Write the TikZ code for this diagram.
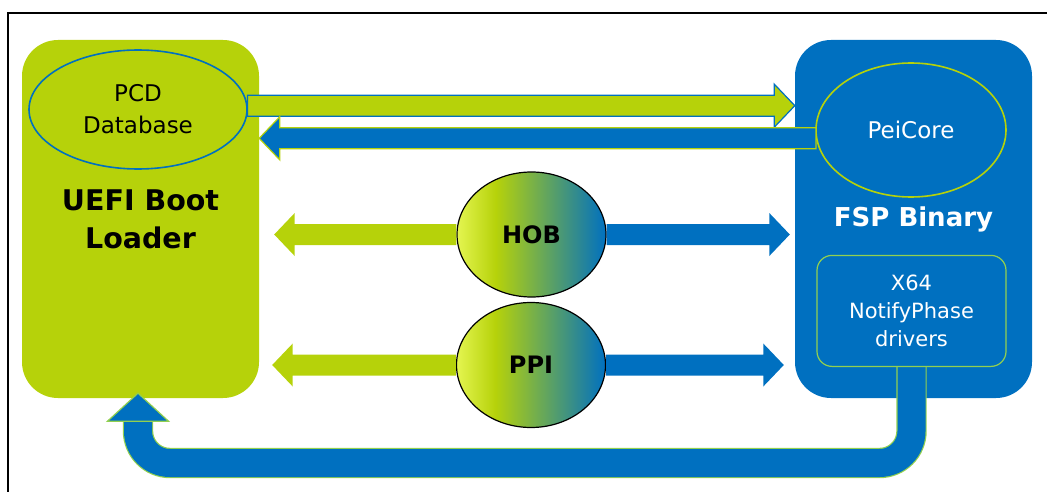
\documentclass[tikz,border=0pt]{standalone}
\usepackage{fontspec}
\setmainfont{DejaVu Sans}
\usetikzlibrary{shapes.geometric,calc}
\definecolor{uefigreen}{RGB}{182,210,10}
\definecolor{fspblue}{RGB}{0,112,192}
\definecolor{edgegreen}{RGB}{146,208,80}
\definecolor{hoblight}{RGB}{228,245,80}
\pgfdeclarehorizontalshading{hobshade}{100bp}{color(0bp)=(hoblight); color(25bp)=(hoblight); color(38bp)=(uefigreen); color(75bp)=(fspblue); color(100bp)=(fspblue)}
\tikzset{
  bigbox/.style={rectangle, rounded corners=36pt, minimum width=237pt, minimum height=358pt, inner sep=0pt, align=center, font=\fontsize{26}{38}\selectfont\bfseries},
  part/.style={ellipse, inner sep=0pt, align=center, line width=1.6pt, font=\fontsize{23}{32}\selectfont},
  info/.style={ellipse, draw=black, line width=1.2pt, shade, shading=hobshade, minimum width=149pt, minimum height=125pt, inner sep=0pt, font=\fontsize{24}{28}\selectfont\bfseries},
  outline/.style={line width=1.2pt, line join=miter},
}
% fat horizontal arrow from #2 to #3
\newcommand{\fatarrow}[3][]{%
  \path[#1] let \p1=(#2), \p2=(#3), \n1={ifthenelse(\x2>\x1,1,-1)} in
    (\x1,\y1+10.5pt) -- ({\x2-(\n1)*20.5pt},\y1+10.5pt) -- ({\x2-(\n1)*20.5pt},\y1+21.5pt)
    -- (\x2,\y1) -- ({\x2-(\n1)*20.5pt},\y1-21.5pt) -- ({\x2-(\n1)*20.5pt},\y1-10.5pt)
    -- (\x1,\y1-10.5pt) -- cycle;}
\begin{document}
\begin{tikzpicture}[x=1pt,y=-1pt]
\useasboundingbox (0,0) rectangle (1047,492);
\draw[line width=2pt] (1047,13) -- (8,13) -- (8,492);
\node[bigbox, fill=uefigreen, font=\fontsize{28.5}{38}\selectfont\bfseries] (uefi) at (140.5,219) {UEFI Boot\\Loader};
\node[bigbox, fill=fspblue, text=white] (fsp) at (913.5,219) {FSP Binary};
% return path of the X64 drivers
\coordinate (drv) at (911.5,367);
\coordinate (ubase) at ($(uefi.south)+(-2.5,23)$);
\draw[draw=edgegreen, line width=1.2pt, double=fspblue, double distance=28pt, rounded corners=32pt] (drv) -- ++(0,96) -| (ubase);
\node[rectangle, rounded corners=15pt, outline, draw=edgegreen, fill=fspblue, text=white, align=center, anchor=south, minimum width=189pt, minimum height=111pt, font=\fontsize{21}{28}\selectfont] (notify) at (drv) {X64\\NotifyPhase\\drivers};
\filldraw[outline, fill=fspblue, draw=edgegreen] ($(ubase)+(-30.5,0)$) -- ($(ubase)+(0,-28)$) -- ($(ubase)+(30.5,0)$) -- cycle;
% ellipses
\node[part, draw=fspblue, fill=uefigreen, minimum width=218pt, minimum height=119pt] (pcd) at (138,109.5) {PCD\\Database};
\node[part, draw=uefigreen, fill=fspblue, text=white, minimum width=190pt, minimum height=134pt] (peicore) at (911,130) {PeiCore};
\node[info] (hob) at (531.5,234.5) {HOB};
\node[info] (ppi) at (531,365) {PPI};
% arrows
\fatarrow[outline, fill=uefigreen, draw=fspblue]{pcd.2}{fsp.west |- pcd.2}
\fatarrow[outline, fill=fspblue, draw=uefigreen]{peicore.185}{uefi.east |- peicore.185}
\coordinate (hobL) at ($(uefi.east |- hob.west)+(15,0)$);
\coordinate (hobR) at ($(fsp.west |- hob.east)+(-5,0)$);
\coordinate (ppiL) at ($(uefi.east |- ppi.west)+(13,0)$);
\coordinate (ppiR) at ($(fsp.west |- ppi.east)+(-11,0)$);
\fatarrow[fill=uefigreen]{hob.west}{hobL}
\fatarrow[fill=fspblue]{hob.east}{hobR}
\fatarrow[fill=uefigreen]{ppi.west}{ppiL}
\fatarrow[fill=fspblue]{ppi.east}{ppiR}
\end{tikzpicture}
\end{document}
